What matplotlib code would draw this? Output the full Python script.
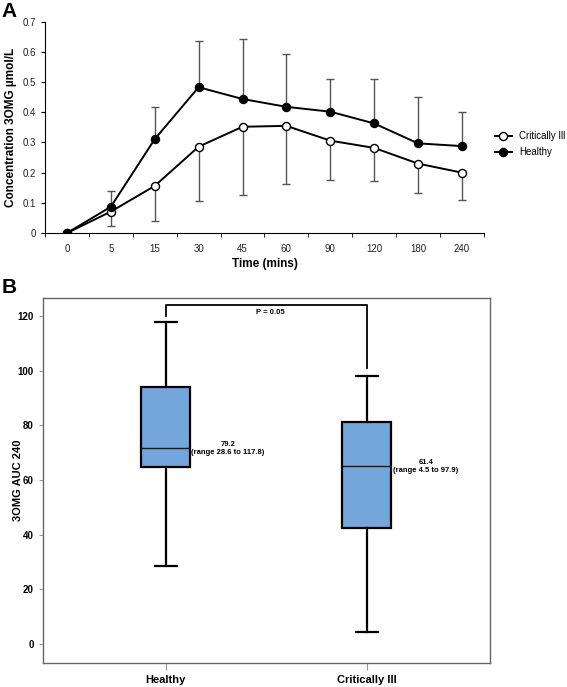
import matplotlib
matplotlib.use('Agg')
import matplotlib.pyplot as plt
import numpy as np

plt.rcParams['font.family'] = ['Liberation Sans', 'DejaVu Sans']

# Panel A data
times = ['0', '5', '15', '30', '45', '60', '90', '120', '180', '240']
healthy = [0, 0.087, 0.311, 0.483, 0.444, 0.418, 0.402, 0.363, 0.297, 0.288]
healthy_upper = [0, 0.140, 0.418, 0.636, 0.644, 0.593, 0.509, 0.509, 0.450, 0.402]
crit = [0, 0.071, 0.156, 0.286, 0.352, 0.355, 0.306, 0.282, 0.230, 0.200]
crit_lower = [0, 0.022, 0.041, 0.106, 0.127, 0.161, 0.175, 0.172, 0.134, 0.109]

# Panel B data
groups = ['Healthy', 'Critically Ill']
whislo = [28.6, 4.5]
q1 = [64.6, 42.6]
med = [71.6, 65.2]
q3 = [94.1, 81.3]
whishi = [117.8, 97.9]
notes = ['79.2\n(range 28.6 to 117.8)', '61.4\n(range 4.5 to 97.9)']

fig = plt.figure(figsize=(5.67, 6.87), dpi=100)

# ---- A ----
ax = fig.add_axes([0.0794, 0.6608, 0.774, 0.3076])
x = np.arange(len(times))
h = np.array(healthy)
c = np.array(crit)
ax.errorbar(x, h, yerr=[np.zeros_like(h), np.array(healthy_upper) - h], fmt='none',
            ecolor='#555555', elinewidth=1, capsize=3, capthick=1, zorder=1)
ax.errorbar(x, c, yerr=[c - np.array(crit_lower), np.zeros_like(c)], fmt='none',
            ecolor='#555555', elinewidth=1, capsize=3, capthick=1, zorder=1)
ax.plot(x, c, '-o', color='black', mfc='white', mec='black', ms=5.8, lw=1.4,
        label='Critically Ill', zorder=3)
ax.plot(x, h, '-o', color='black', mfc='black', mec='black', ms=5.8, lw=1.4,
        label='Healthy', zorder=3)
ax.set_xlim(-0.5, 9.5)
ax.set_ylim(0, 0.7)
ax.set_xticks(x)
ax.set_xticklabels(times)
ax.set_xticks(np.arange(-0.5, 10, 1), minor=True)
ax.tick_params(axis='x', which='major', length=0, pad=8, labelsize=7, labelcolor='#222222')
ax.tick_params(axis='x', which='minor', length=3, direction='out')
ax.set_yticks(np.arange(0, 0.71, 0.1))
ax.set_yticklabels(['0', '0.1', '0.2', '0.3', '0.4', '0.5', '0.6', '0.7'])
ax.tick_params(axis='y', length=3, direction='out', labelsize=7, labelcolor='#222222')
ax.spines['top'].set_visible(False)
ax.spines['right'].set_visible(False)
ax.set_xlabel('Time (mins)', fontsize=8.5, fontweight='bold', labelpad=3)
ax.set_ylabel('Concentration 3OMG µmol/L', fontsize=8.5, fontweight='bold', labelpad=4)
ax.legend(loc='center left', bbox_to_anchor=(0.864, 0.79), bbox_transform=fig.transFigure,
          frameon=False, fontsize=7, handlelength=1.8, handletextpad=0.7,
          labelspacing=0.6, borderpad=0)
fig.text(0.003, 0.997, 'A', fontsize=15, fontweight='bold', va='top', ha='left')

# ---- B ----
bx = fig.add_axes([0.0753, 0.0354, 0.7889, 0.5313])
stats = []
for i in range(len(groups)):
    stats.append({'label': groups[i], 'whislo': whislo[i], 'q1': q1[i], 'med': med[i],
                  'q3': q3[i], 'whishi': whishi[i], 'fliers': []})
bx.bxp(stats, positions=[1, 2], widths=0.242, patch_artist=True, showfliers=False,
       boxprops=dict(facecolor='#74a6dc', edgecolor='black', linewidth=1.6),
       medianprops=dict(color='#1a1a1a', linewidth=1.0),
       whiskerprops=dict(color='black', linewidth=1.6),
       capprops=dict(color='black', linewidth=1.6), capwidths=0.11)
bx.set_xlim(0.388, 2.613)
bx.set_ylim(-6.8, 126.7)
bx.set_yticks(np.arange(0, 121, 20))
bx.tick_params(axis='y', length=3, color='#999999', labelsize=7)
bx.tick_params(axis='x', length=5, color='#999999', labelsize=8, pad=4)
for lab in bx.get_yticklabels() + bx.get_xticklabels():
    lab.set_fontweight('bold')
for s in bx.spines.values():
    s.set_color('#666666')
    s.set_linewidth(1.0)
bx.set_ylabel('3OMG AUC 240', fontsize=8, fontweight='bold')
bx.yaxis.set_label_coords(-0.045, 0.5)

# significance bracket
bx.plot([1, 1, 2, 2], [120, 124, 124, 101.1], color='black', lw=1.3)
bx.text(1.52, 121.4, 'P = 0.05', fontsize=5.5, fontweight='bold', ha='center', va='center')
bx.text(1.31, 71.7, notes[0], fontsize=5.5, fontweight='bold', ha='center', va='center')
bx.text(2.295, 65.0, notes[1], fontsize=5.5, fontweight='bold', ha='center', va='center')
fig.text(0.003, 0.596, 'B', fontsize=15, fontweight='bold', va='top', ha='left')

plt.savefig('out.png', dpi=100)
plt.close()
